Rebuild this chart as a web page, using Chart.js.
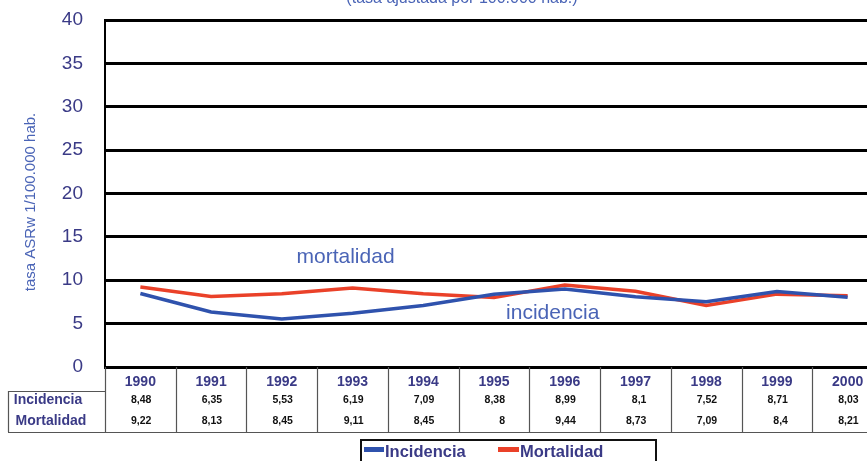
<!DOCTYPE html>
<html>
<head>
<meta charset="utf-8">
<script src="https://cdn.jsdelivr.net/npm/chart.js@4"></script>
<style>
html,body{margin:0;padding:0;background:#fff;overflow:hidden;width:867px;height:461px;}
#wrap{position:absolute;left:0;top:0;width:890px;height:461px;}
</style>
</head>
<body>
<div id="wrap"><canvas id="c" width="890" height="461"></canvas></div>
<script>
const years = ['1990','1991','1992','1993','1994','1995','1996','1997','1998','1999','2000'];
const incidencia = [8.48, 6.35, 5.53, 6.19, 7.09, 8.38, 8.99, 8.1, 7.52, 8.71, 8.03];
const mortalidad = [9.22, 8.13, 8.45, 9.11, 8.45, 8, 9.44, 8.73, 7.09, 8.4, 8.21];
const seriesNames = ['Incidencia', 'Mortalidad'];
const titleText = '(tasa ajustada por 100.000 hab.)';
const yTitle = 'tasa ASRw 1/100.000 hab.';
const annotations = [{text:'mortalidad', year:'1993', dx:-7, value:12.7}, {text:'incidencia', year:'1996', dx:-12, value:6.2}];

const BLUE = '#2f52ad';
const RED = '#ea4129';
const NAVY = '#3a3a86';
const LIGHTBLUE = '#4a64b6';

const fmt = v => String(v).replace('.', ',');

const extras = {
  id: 'extras',
  afterDraw(chart) {
    const ctx = chart.ctx;
    const x = chart.scales.x, y = chart.scales.y;
    const ca = chart.chartArea;
    ctx.save();
    // title (partially cut off)
    ctx.fillStyle = LIGHTBLUE;
    ctx.font = '16px Arial, "Liberation Sans"';
    ctx.textAlign = 'center';
    ctx.textBaseline = 'middle';
    ctx.fillText(titleText, 462, -1);
    // y axis title
    ctx.save();
    ctx.translate(31, 202);
    ctx.rotate(-Math.PI/2);
    ctx.font = '15px Arial, "Liberation Sans"';
    ctx.fillStyle = LIGHTBLUE;
    ctx.fillText(yTitle, 0, 0);
    ctx.restore();
    // annotations
    ctx.font = '21px Arial, "Liberation Sans"';
    ctx.fillStyle = LIGHTBLUE;
    annotations.forEach(a => {
      ctx.fillText(a.text, x.getPixelForValue(years.indexOf(a.year)) + a.dx, y.getPixelForValue(a.value));
    });
    // data table
    const colW = x.getPixelForValue(1) - x.getPixelForValue(0);
    const left = ca.left;
    const top = ca.bottom;
    const bottom = 432;
    ctx.strokeStyle = '#555';
    ctx.lineWidth = 1.2;
    for (let i = 0; i <= years.length; i++) {
      const xx = Math.round(left + i*colW) + 0.5;
      ctx.beginPath(); ctx.moveTo(xx, top); ctx.lineTo(xx, bottom); ctx.stroke();
    }
    ctx.beginPath(); ctx.moveTo(8, bottom + 0.5); ctx.lineTo(left + years.length*colW, bottom + 0.5); ctx.stroke();
    ctx.beginPath(); ctx.moveTo(8.5, bottom); ctx.lineTo(8.5, 391.5); ctx.lineTo(left, 391.5); ctx.stroke();
    ctx.textBaseline = 'middle';
    years.forEach((yr, i) => {
      const cx = x.getPixelForValue(i);
      ctx.textAlign = 'center';
      ctx.fillStyle = NAVY;
      ctx.font = 'bold 14px Arial, "Liberation Sans"';
      ctx.fillText(yr, cx, 382);
      ctx.textAlign = 'right';
      ctx.fillStyle = '#111';
      ctx.font = 'bold 10.5px Arial, "Liberation Sans"';
      ctx.fillText(fmt(incidencia[i]), cx + 11, 400);
      ctx.fillText(fmt(mortalidad[i]), cx + 11, 421);
    });
    ctx.textAlign = 'center';
    ctx.fillStyle = NAVY;
    ctx.font = 'bold 14px Arial, "Liberation Sans"';
    ctx.fillText(seriesNames[0], 48, 400);
    ctx.fillText(seriesNames[1], 51, 421);
    // legend
    ctx.strokeStyle = '#111';
    ctx.lineWidth = 2;
    ctx.strokeRect(361, 440, 295, 40);
    ctx.fillStyle = BLUE; ctx.fillRect(364, 447, 20, 5);
    ctx.fillStyle = RED; ctx.fillRect(498, 447, 21, 5);
    ctx.font = 'bold 16.5px Arial, "Liberation Sans"';
    ctx.fillStyle = NAVY;
    ctx.textAlign = 'left';
    ctx.textBaseline = 'alphabetic';
    ctx.fillText(seriesNames[0], 385, 457);
    ctx.fillText(seriesNames[1], 520, 457);
    ctx.restore();
  }
};

new Chart(document.getElementById('c'), {
  type: 'line',
  data: {
    labels: years,
    datasets: [
      {label: seriesNames[0], data: incidencia, borderColor: BLUE, backgroundColor: BLUE, borderWidth: 3.5, pointRadius: 0, tension: 0},
      {label: seriesNames[1], data: mortalidad, borderColor: RED, backgroundColor: RED, borderWidth: 3.5, pointRadius: 0, tension: 0}
    ]
  },
  options: {
    responsive: false,
    animation: false,
    devicePixelRatio: 1,
    layout: {padding: {top: 20, bottom: 94, right: 7, left: 0}},
    plugins: {legend: {display: false}, tooltip: {enabled: false}, title: {display: false}},
    scales: {
      x: {display: false, offset: true},
      y: {
        min: 0, max: 40,
        ticks: {stepSize: 5, color: NAVY, font: {size: 19, family: 'Arial, "Liberation Sans"'}, padding: 22},
        grid: {color: '#000', lineWidth: 3, drawTicks: false},
        border: {display: true, color: '#000', width: 2},
        afterFit(s) { s.width = 105; s.paddingTop = 0; s.paddingBottom = 0; }
      }
    }
  },
  plugins: [extras]
});
</script>
</body>
</html>
